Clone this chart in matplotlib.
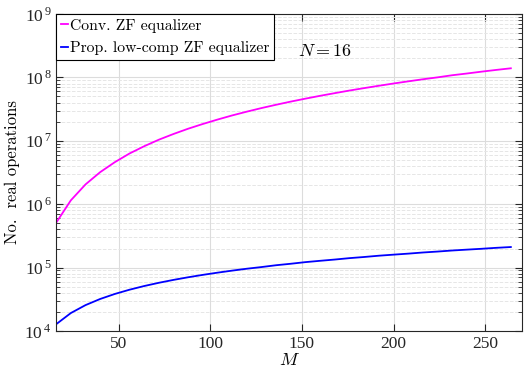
import math
import matplotlib
matplotlib.use("Agg")
import matplotlib.pyplot as plt
from matplotlib.ticker import LogLocator, FuncFormatter, NullFormatter
from matplotlib.font_manager import FontProperties

plt.rcParams['font.family'] = 'serif'
plt.rcParams['font.serif'] = ['Liberation Serif', 'DejaVu Serif']
plt.rcParams['mathtext.fontset'] = 'stix'

M = [16, 24, 32, 40, 48, 56, 64, 72, 80, 88, 96, 104, 112, 120, 128, 136,
     144, 152, 160, 168, 176, 184, 192, 200, 208, 216, 224, 232, 240, 248, 256, 264]
conv_zf = [5.1e5, 1.15e6, 2.05e6, 3.2e6, 4.6e6, 6.3e6, 8.2e6, 1.04e7, 1.28e7, 1.55e7,
           1.84e7, 2.16e7, 2.51e7, 2.88e7, 3.28e7, 3.70e7, 4.15e7, 4.62e7, 5.12e7,
           5.64e7, 6.2e7, 6.77e7, 7.37e7, 8.0e7, 8.65e7, 9.33e7, 1.0e8, 1.08e8,
           1.15e8, 1.23e8, 1.31e8, 1.39e8]
prop_zf = [1.28e4, 1.92e4, 2.56e4, 3.2e4, 3.84e4, 4.48e4, 5.12e4, 5.76e4, 6.4e4, 7.04e4,
           7.68e4, 8.32e4, 8.96e4, 9.6e4, 1.02e5, 1.09e5, 1.15e5, 1.22e5, 1.28e5, 1.34e5,
           1.41e5, 1.47e5, 1.54e5, 1.6e5, 1.66e5, 1.73e5, 1.79e5, 1.86e5, 1.92e5, 1.98e5,
           2.05e5, 2.11e5]
labels = ['Conv. ZF equalizer', 'Prop. low-comp ZF equalizer']
xticks = [50, 100, 150, 200, 250]

cm_font = FontProperties(family='cmr10', size=11.3)

fig = plt.figure(figsize=(5.25, 3.77), dpi=100)
ax = fig.add_axes([0.107, 0.122, 0.887, 0.841])
ax.plot(M, conv_zf, color='#ff00ff', lw=1.3, label=labels[0])
ax.plot(M, prop_zf, color='#0000ff', lw=1.3, label=labels[1])
ax.set_yscale('log')
ax.set_xlim(16, 270)
ax.set_ylim(1e4, 1e9)
ax.set_xticks(xticks)
ax.set_xticklabels([str(t) for t in xticks])
ax.yaxis.set_major_locator(LogLocator(base=10, numticks=10))
ax.yaxis.set_minor_locator(LogLocator(base=10, subs=range(2, 10), numticks=20))
ax.yaxis.set_major_formatter(FuncFormatter(
    lambda v, p: r'$\mathregular{10}^{\,\mathregular{%d}}$' % round(math.log10(v))))
ax.yaxis.set_minor_formatter(NullFormatter())

ax.grid(True, which='major', color='#dcdcdc', lw=0.8, ls='-')
ax.grid(True, which='minor', axis='y', color='#e6e6e6', lw=0.7, ls='--')
ax.set_axisbelow(True)
ax.tick_params(which='both', direction='in', top=True, right=True, labelsize=12.5, colors='#262626')
ax.tick_params(which='major', length=5)
ax.tick_params(which='minor', length=3)
for s in ax.spines.values():
    s.set_color('#262626')
    s.set_linewidth(0.8)

ax.set_xlabel(r'$M$', fontsize=13, labelpad=0, math_fontfamily='cm')
ax.set_ylabel('No.  real operations', fontproperties=FontProperties(family='cmr10', size=12), labelpad=3)
ax.text(148, 2.6e8, r'$N = 16$', fontsize=13, va='center', ha='left', math_fontfamily='cm')

leg = ax.legend(loc='upper left', prop=cm_font, frameon=True, fancybox=False,
                edgecolor='black', handlelength=0.45, handletextpad=0.1,
                borderaxespad=0.0, borderpad=0.3, labelspacing=0.55)
leg.get_frame().set_linewidth(0.8)
leg.get_frame().set_alpha(1)

fig.savefig('out.png', dpi=100)
